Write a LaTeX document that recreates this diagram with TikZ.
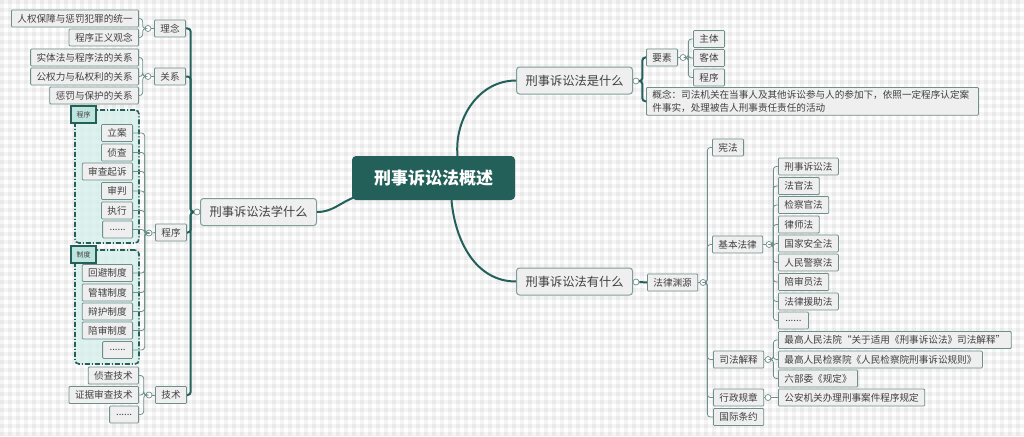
\documentclass[tikz,border=0pt]{standalone}
\usepackage{fontspec}
\setmainfont{Noto Sans CJK SC}
\definecolor{deepteal}{RGB}{36,96,90}
\definecolor{edgegray}{RGB}{111,143,138}
\definecolor{topicedge}{RGB}{127,158,153}
\definecolor{boxgray}{RGB}{239,239,239}
\definecolor{inkgray}{RGB}{64,64,64}
\definecolor{groupteal}{RGB}{214,240,236}
\definecolor{tagteal}{RGB}{190,228,222}

\begin{document}
\begin{tikzpicture}[
    x=1pt, y=1pt,
    root/.style={
        rectangle,
        rounded corners=4pt,
        fill=deepteal,
        text=white,
        minimum width=163pt,
        minimum height=44pt,
        font=\fontsize{17}{20}\selectfont\bfseries
    },
    topic/.style={
        rectangle,
        rounded corners=3pt,
        draw=topicedge,
        fill=boxgray,
        line width=1pt,
        text=inkgray,
        inner xsep=9pt,
        minimum height=27pt,
        font=\fontsize{12.25}{14}\selectfont
    },
    leaf/.style={
        rectangle,
        rounded corners=1pt,
        draw=edgegray,
        fill=boxgray,
        line width=0.8pt,
        text=inkgray,
        inner xsep=6pt,
        inner ysep=0pt,
        minimum height=17pt,
        font=\fontsize{9.6}{11}\selectfont
    },
    note/.style={leaf, align=left, text width=320pt, inner ysep=3pt,
        font=\fontsize{9.6}{12.5}\selectfont},
    knob/.style={circle, draw=edgegray, fill=white, line width=0.7pt,
        inner sep=0pt, minimum size=6pt},
    group/.style={rectangle, rounded corners=4pt, draw=deepteal,
        line width=1.6pt, fill=groupteal, fill opacity=0.8, draw opacity=1,
        dash pattern=on 5pt off 2pt on 1pt off 2pt},
    grouptag/.style={rectangle, draw=deepteal, fill=tagteal, line width=1.6pt,
        minimum width=25pt, minimum height=17pt, inner sep=0pt,
        text=inkgray, font=\fontsize{7}{8}\selectfont},
    trunk/.style={draw=deepteal, line width=2pt, rounded corners=3pt},
    twig/.style={draw=edgegray, line width=0.8pt, rounded corners=3pt}
]
    % Background
    \useasboundingbox (0,0) rectangle (1024,-436);
    \fill[white] (0,0) rectangle (1024,-436);
    \foreach \i in {0,...,127}
        \fill[black, opacity=0.045] ({\i*8},0) rectangle ({\i*8+4},-436);
    \foreach \j in {0,...,54}
        \fill[black, opacity=0.045] (0,{-\j*8}) rectangle (1024,{-\j*8-4});

    % Root
    \node[root] (root) at (433.5,-178) {刑事诉讼法概述};

    % Left: topic
    \node[topic, anchor=east] (xue) at (317,-212) {刑事诉讼法学什么};
    \node[knob] (k-xue) at (197,-212) {};

    % Left: ideas
    \node[leaf, anchor=east] (renquan) at (139,-18.5) {人权保障与惩罚犯罪的统一};
    \node[leaf, anchor=east] (zhengyi) at (139,-37.5) {程序正义观念};
    \node[leaf, anchor=east] (linian) at (186,-28.5) {理念};
    \node[knob] (k-linian) at (148,-28.5) {};

    % Left: relations
    \node[leaf, anchor=east] (shiti) at (139,-57.5) {实体法与程序法的关系};
    \node[leaf, anchor=east] (gongquan) at (139,-76.5) {公权力与私权利的关系};
    \node[leaf, anchor=east] (chengfa) at (139,-95.5) {惩罚与保护的关系};
    \node[leaf, anchor=east] (guanxi) at (186,-76.5) {关系};
    \node[knob] (k-guanxi) at (148,-76.5) {};

    % Left: procedure groups
    \node[group, minimum width=64pt, minimum height=133pt] (g-cx) at (107,-176.5) {};
    \node[grouptag] (t-cx) at (83.5,-114.5) {程序};
    \node[leaf, anchor=east] (lian) at (133,-133) {立案};
    \node[leaf, anchor=east] (zhencha) at (133,-152.5) {侦查};
    \node[leaf, anchor=east] (shencha) at (133,-171.5) {审查起诉};
    \node[leaf, anchor=east] (shenpan) at (133,-191) {审判};
    \node[leaf, anchor=east] (zhixing) at (133,-210.5) {执行};
    \node[leaf, anchor=east, minimum width=30pt] (cx-more) at (133,-229.5) {......};

    \node[group, minimum width=64pt, minimum height=114pt] (g-zd) at (107,-307) {};
    \node[grouptag] (t-zd) at (83.5,-254.5) {制度};
    \node[leaf, anchor=east] (huibi) at (133,-273) {回避制度};
    \node[leaf, anchor=east] (guanxia) at (133,-292.5) {管辖制度};
    \node[leaf, anchor=east] (bianhu) at (133,-311.5) {辩护制度};
    \node[leaf, anchor=east] (peishen) at (133,-330.5) {陪审制度};
    \node[leaf, anchor=east, minimum width=30pt] (zd-more) at (133,-350) {......};

    \node[leaf, anchor=east] (chengxu) at (187,-232.5) {程序};
    \node[knob] (k-chengxu) at (149,-233) {};

    % Left: techniques
    \node[leaf, anchor=east] (zhenchajs) at (139,-375.5) {侦查技术};
    \node[leaf, anchor=east] (zhengju) at (139,-395) {证据审查技术};
    \node[leaf, anchor=east, minimum width=29pt] (js-more) at (139,-414.5) {......};
    \node[leaf, anchor=east] (jishu) at (187,-395) {技术};
    \node[knob] (k-jishu) at (149,-395) {};

    % Right: what it is
    \node[topic, anchor=west] (shi) at (516,-80.5) {刑事诉讼法是什么};
    \node[knob] (k-shi) at (636,-81) {};
    \node[leaf, anchor=west] (yaosu) at (646,-57.5) {要素};
    \node[knob] (k-yaosu) at (683,-57.5) {};
    \node[leaf, anchor=west] (zhuti) at (693,-39) {主体};
    \node[leaf, anchor=west] (keti) at (693,-58) {客体};
    \node[leaf, anchor=west] (cx-yaosu) at (693,-77.5) {程序};
    \node[note, anchor=north west] (gainian) at (646,-87)
        {概念：司法机关在当事人及其他诉讼参与人的参加下，依照一定程序认定案\\件事实，处理被告人刑事责任责任的活动};

    % Right: what it has
    \node[topic, anchor=west] (you) at (516,-281.5) {刑事诉讼法有什么};
    \node[knob] (k-you) at (636,-282) {};
    \node[leaf, anchor=west] (yuanyuan) at (647,-282.5) {法律渊源};
    \node[knob] (k-yuan) at (703,-282.5) {};
    \node[leaf, anchor=west] (xianfa) at (712,-147.5) {宪法};
    \node[leaf, anchor=west] (jiben) at (712,-244.5) {基本法律};
    \node[knob] (k-jiben) at (769,-244.5) {};
    \node[leaf, anchor=west] (susong) at (778,-166.5) {刑事诉讼法};
    \node[leaf, anchor=west] (faguan) at (778,-186) {法官法};
    \node[leaf, anchor=west] (jianchaguan) at (778,-205) {检察官法};
    \node[leaf, anchor=west] (lvshi) at (778,-224.5) {律师法};
    \node[leaf, anchor=west] (anquan) at (778,-243.5) {国家安全法};
    \node[leaf, anchor=west] (jingcha) at (778,-262.5) {人民警察法};
    \node[leaf, anchor=west] (peishenyuan) at (778,-282) {陪审员法};
    \node[leaf, anchor=west] (yuanzhu) at (778,-301.5) {法律援助法};
    \node[leaf, anchor=west, minimum width=30pt] (law-more) at (778,-320.5) {......};
    \node[leaf, anchor=west] (sifa) at (713,-359.5) {司法解释};
    \node[knob] (k-sifa) at (768,-359.5) {};
    \node[leaf, anchor=west] (fayuan) at (778,-340) {最高人民法院“关于适用《刑事诉讼法》司法解释”};
    \node[leaf, anchor=west] (jianchayuan) at (778,-359.5) {最高人民检察院《人民检察院刑事诉讼规则》};
    \node[leaf, anchor=west] (liubuwei) at (778,-378.5) {六部委《规定》};
    \node[leaf, anchor=west] (xingzheng) at (713,-397.5) {行政规章};
    \node[knob] (k-xingzheng) at (768,-397.5) {};
    \node[leaf, anchor=west] (gongan) at (778,-397.5) {公安机关办理刑事案件程序规定};
    \node[leaf, anchor=west] (guoji) at (713,-417) {国际条约};

    % Trunks
    \draw[trunk] ([shift={(3,3)}]root.south west) to[out=200,in=0] (xue.east);
    \draw[trunk] ([xshift=24pt]root.north) to[out=95,in=180] (shi.west);
    \draw[trunk] ([xshift=18pt]root.south) to[out=-85,in=180] (you.west);

    \draw[twig] (xue.west) -- (k-xue.east);
    \draw[trunk] (k-xue.west) -- ++(-3,0) |- (linian.east);
    \draw[trunk] (k-xue.west) -- ++(-3,0) |- (guanxi.east);
    \draw[trunk] (k-xue.west) -- ++(-3,0) |- (chengxu.east);
    \draw[trunk] (k-xue.west) -- ++(-3,0) |- (jishu.east);

    \draw[trunk] (k-shi.east) -- ++(3,0) |- (yaosu.west);
    \draw[trunk] (k-shi.east) -- ++(3,0) |- (gainian.west);
    \draw[trunk] (k-you.east) -- (yuanyuan.west);

    % Left twigs
    \draw[twig] (linian.west) -- (k-linian.east);
    \draw[twig] (k-linian.west) -- ++(-2,0) |- (renquan.east);
    \draw[twig] (k-linian.west) -- ++(-2,0) |- (zhengyi.east);

    \draw[twig] (guanxi.west) -- (k-guanxi.east);
    \draw[twig] (k-guanxi.west) -- ++(-2,0) |- (shiti.east);
    \draw[twig] (k-guanxi.west) -- ++(-2,0) |- (gongquan.east);
    \draw[twig] (k-guanxi.west) -- ++(-2,0) |- (chengfa.east);

    \draw[twig] (chengxu.west) -- (k-chengxu.east);
    \draw[twig] (k-chengxu.west) -- ++(-1,0) |- (lian.east);
    \draw[twig] (k-chengxu.west) -- ++(-1,0) |- (zhencha.east);
    \draw[twig] (k-chengxu.west) -- ++(-1,0) |- (shencha.east);
    \draw[twig] (k-chengxu.west) -- ++(-1,0) |- (shenpan.east);
    \draw[twig] (k-chengxu.west) -- ++(-1,0) |- (zhixing.east);
    \draw[twig] (k-chengxu.west) -- ++(-1,0) |- (cx-more.east);
    \draw[twig] (k-chengxu.west) -- ++(-1,0) |- (huibi.east);
    \draw[twig] (k-chengxu.west) -- ++(-1,0) |- (guanxia.east);
    \draw[twig] (k-chengxu.west) -- ++(-1,0) |- (bianhu.east);
    \draw[twig] (k-chengxu.west) -- ++(-1,0) |- (peishen.east);
    \draw[twig] (k-chengxu.west) -- ++(-1,0) |- (zd-more.east);

    \draw[twig] (jishu.west) -- (k-jishu.east);
    \draw[twig] (k-jishu.west) -- ++(-2,0) |- (zhenchajs.east);
    \draw[twig] (k-jishu.west) -- ++(-2,0) |- (zhengju.east);
    \draw[twig] (k-jishu.west) -- ++(-2,0) |- (js-more.east);

    % Right twigs
    \draw[twig] (yaosu.east) -- (k-yaosu.west);
    \draw[twig] (k-yaosu.east) -- ++(2,0) |- (zhuti.west);
    \draw[twig] (k-yaosu.east) -- ++(2,0) |- (keti.west);
    \draw[twig] (k-yaosu.east) -- ++(2,0) |- (cx-yaosu.west);

    \draw[twig] (yuanyuan.east) -- (k-yuan.west);
    \draw[twig] (k-yuan.east) -- ++(1,0) |- (xianfa.west);
    \draw[twig] (k-yuan.east) -- ++(1,0) |- (jiben.west);
    \draw[twig] (k-yuan.east) -- ++(1,0) |- (sifa.west);
    \draw[twig] (k-yuan.east) -- ++(1,0) |- (xingzheng.west);
    \draw[twig] (k-yuan.east) -- ++(1,0) |- (guoji.west);

    \draw[twig] (jiben.east) -- (k-jiben.west);
    \draw[twig] (k-jiben.east) -- ++(1,0) |- (susong.west);
    \draw[twig] (k-jiben.east) -- ++(1,0) |- (faguan.west);
    \draw[twig] (k-jiben.east) -- ++(1,0) |- (jianchaguan.west);
    \draw[twig] (k-jiben.east) -- ++(1,0) |- (lvshi.west);
    \draw[twig] (k-jiben.east) -- ++(1,0) |- (anquan.west);
    \draw[twig] (k-jiben.east) -- ++(1,0) |- (jingcha.west);
    \draw[twig] (k-jiben.east) -- ++(1,0) |- (peishenyuan.west);
    \draw[twig] (k-jiben.east) -- ++(1,0) |- (yuanzhu.west);
    \draw[twig] (k-jiben.east) -- ++(1,0) |- (law-more.west);

    \draw[twig] (sifa.east) -- (k-sifa.west);
    \draw[twig] (k-sifa.east) -- ++(2,0) |- (fayuan.west);
    \draw[twig] (k-sifa.east) -- ++(2,0) |- (jianchayuan.west);
    \draw[twig] (k-sifa.east) -- ++(2,0) |- (liubuwei.west);

    \draw[twig] (xingzheng.east) -- (k-xingzheng.west);
    \draw[twig] (k-xingzheng.east) -- (gongan.west);
\end{tikzpicture}
\end{document}
